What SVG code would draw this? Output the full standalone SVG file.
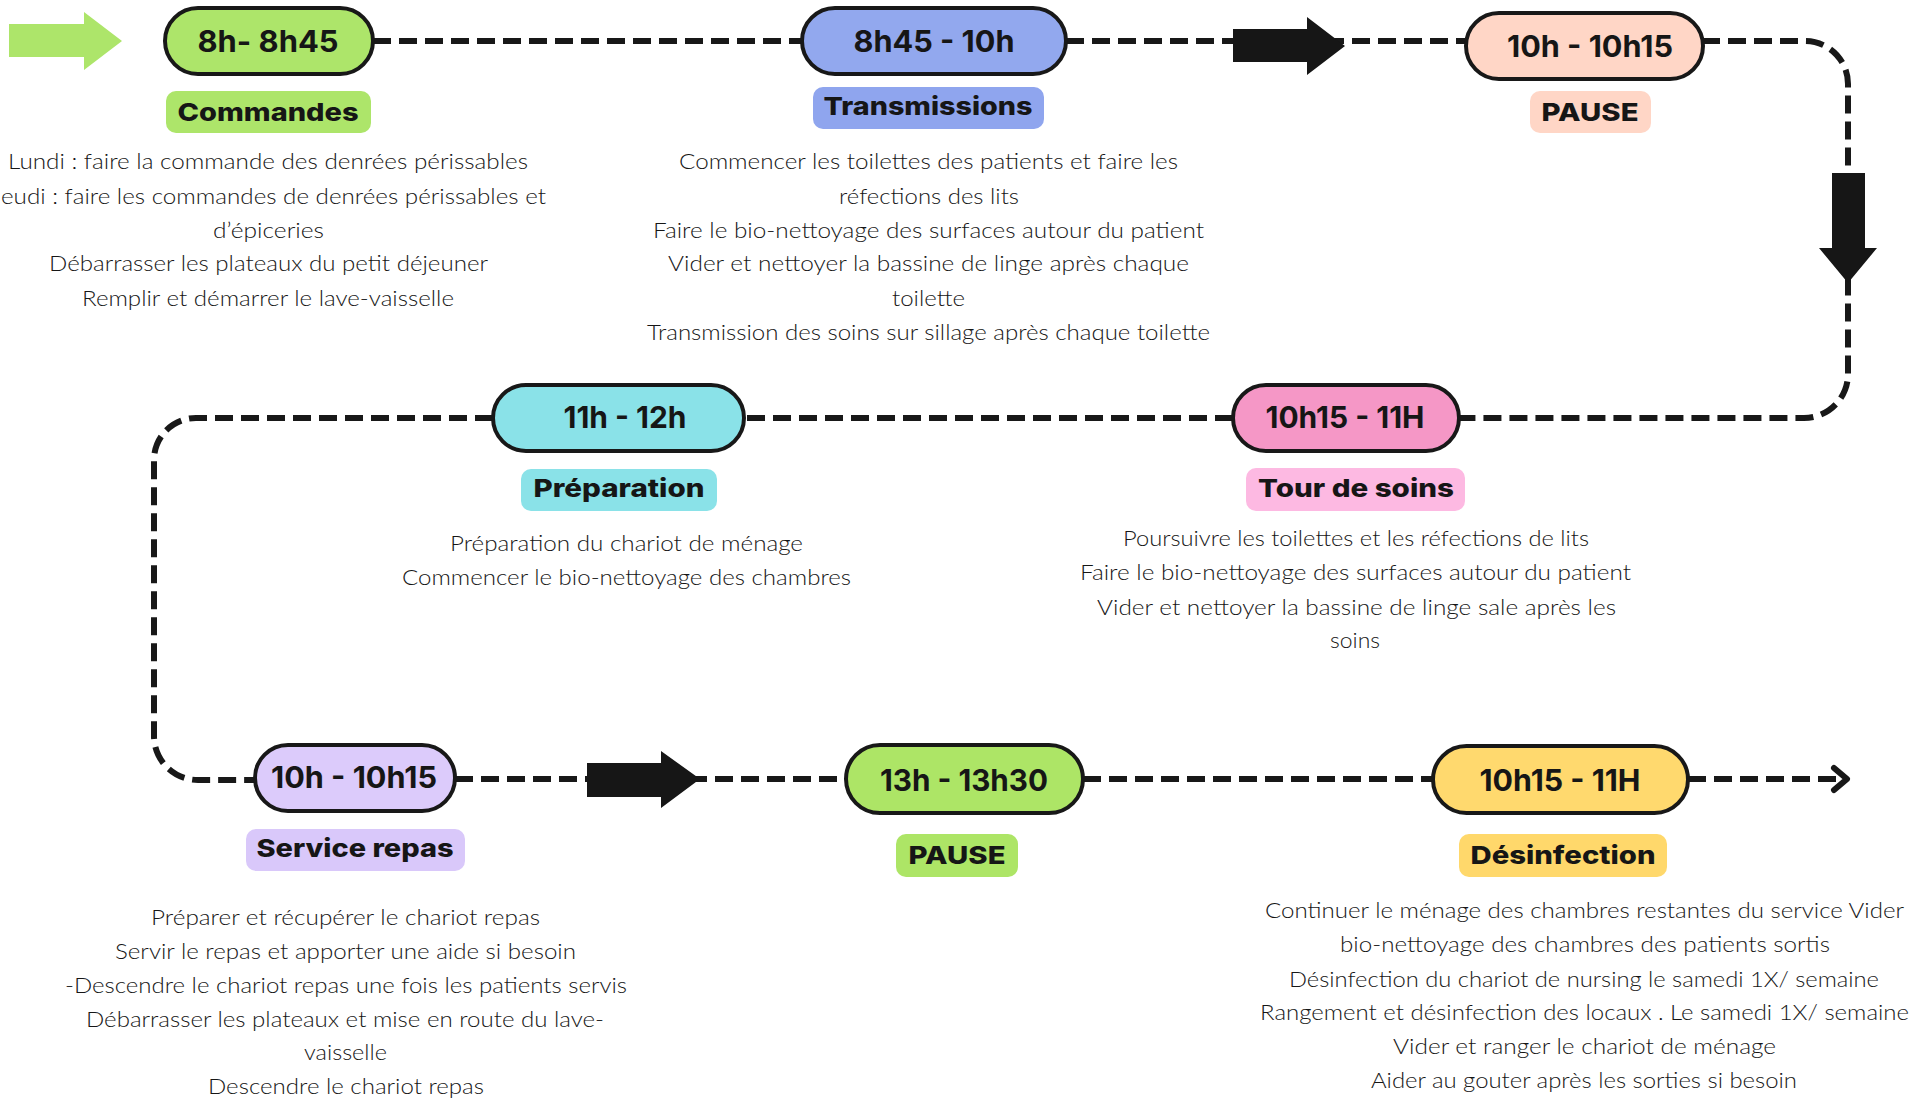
<svg xmlns="http://www.w3.org/2000/svg" width="1930" height="1098" viewBox="0 0 1930 1098">
<style>
.pill{stroke:#181818;stroke-width:4}
.ptxt{font-family:Inter,"Liberation Sans",sans-serif;font-weight:700;font-size:30px;text-anchor:middle;fill:#161616}
.ltxt{font-family:Inter,"Liberation Sans",sans-serif;font-weight:800;font-size:25px;text-anchor:middle;fill:#161616}
.dtxt{font-family:Lato,"Liberation Sans",sans-serif;font-weight:300;font-size:22px;fill:#161616}
.dash{fill:none;stroke:#181818;stroke-width:6;stroke-dasharray:18 8}
.blk{fill:#161616}
</style>
<rect width="1930" height="1098" fill="#ffffff"/>

<g id="connectors">
  <path class="dash" d="M373 41 H802"/>
  <path class="dash" d="M1066 41 H1466"/>
  <path class="dash" d="M1702 41 H1805 A43 43 0 0 1 1848 84 V374 A44 44 0 0 1 1804 418 H1459"/>
  <path class="dash" d="M1233 418 H744"/>
  <path class="dash" d="M493 418 H196 A42 42 0 0 0 154 460 V736 A44 44 0 0 0 198 780 H255"/>
  <path class="dash" d="M455 779 H846"/>
  <path class="dash" d="M1083 779 H1433"/>
  <path class="dash" d="M1688 779 H1842"/>
  <path d="M1834 768 L1847 779 L1834 790" fill="none" stroke="#181818" stroke-width="6" stroke-linecap="round" stroke-linejoin="round"/>
  <polygon points="9,24 84,24 84,12 122,41 84,70 84,57 9,57" fill="#ade56a"/>
  <polygon class="blk" points="1233,29 1307,29 1307,17 1345,46 1307,75 1307,62 1233,62"/>
  <polygon class="blk" points="1832,173 1865,173 1865,248 1877,248 1848,283 1819,248 1832,248"/>
  <polygon class="blk" points="587,763 661,763 661,751 700,779 661,808 661,797 587,797"/>
</g>

<g id="node-commandes">
  <rect class="pill" x="165" y="8" width="208" height="66" rx="33" fill="#ade56a"/>
  <text class="ptxt" x="268" y="52" textLength="141" lengthAdjust="spacingAndGlyphs">8h- 8h45</text>
  <rect x="166" y="91" width="205" height="42" rx="10" fill="#ade56a"/>
  <text class="ltxt" x="268" y="121" textLength="181" lengthAdjust="spacingAndGlyphs">Commandes</text>
  <text class="dtxt" x="8" y="169" textLength="520" lengthAdjust="spacingAndGlyphs">Lundi : faire la commande des denrées périssables</text>
  <text class="dtxt" x="1" y="204" textLength="545" lengthAdjust="spacingAndGlyphs">eudi : faire les commandes de denrées périssables et</text>
  <text class="dtxt" x="213" y="238" textLength="111" lengthAdjust="spacingAndGlyphs">d’épiceries</text>
  <text class="dtxt" x="49" y="271" textLength="439" lengthAdjust="spacingAndGlyphs">Débarrasser les plateaux du petit déjeuner</text>
  <text class="dtxt" x="82" y="306" textLength="372" lengthAdjust="spacingAndGlyphs">Remplir et démarrer le lave-vaisselle</text>
</g>

<g id="node-transmissions">
  <rect class="pill" x="802" y="8" width="264" height="66" rx="33" fill="#92a8ee"/>
  <text class="ptxt" x="934" y="52" textLength="161" lengthAdjust="spacingAndGlyphs">8h45 - 10h</text>
  <rect x="813" y="87" width="231" height="42" rx="10" fill="#8fa5ee"/>
  <text class="ltxt" x="928" y="115" textLength="209" lengthAdjust="spacingAndGlyphs">Transmissions</text>
  <text class="dtxt" x="679" y="169" textLength="499" lengthAdjust="spacingAndGlyphs">Commencer les toilettes des patients et faire les</text>
  <text class="dtxt" x="839" y="204" textLength="180" lengthAdjust="spacingAndGlyphs">réfections des lits</text>
  <text class="dtxt" x="653" y="238" textLength="551" lengthAdjust="spacingAndGlyphs">Faire le bio-nettoyage des surfaces autour du patient</text>
  <text class="dtxt" x="668" y="271" textLength="521" lengthAdjust="spacingAndGlyphs">Vider et nettoyer la bassine de linge après chaque</text>
  <text class="dtxt" x="892" y="306" textLength="73" lengthAdjust="spacingAndGlyphs">toilette</text>
  <text class="dtxt" x="647" y="340" textLength="563" lengthAdjust="spacingAndGlyphs">Transmission des soins sur sillage après chaque toilette</text>
</g>

<g id="node-pause1">
  <rect class="pill" x="1466" y="13" width="237" height="66" rx="33" fill="#ffd6c6"/>
  <text class="ptxt" x="1590" y="57" textLength="166" lengthAdjust="spacingAndGlyphs">10h - 10h15</text>
  <rect x="1530" y="91" width="121" height="42" rx="10" fill="#ffd6c6"/>
  <text class="ltxt" x="1590" y="121" textLength="97" lengthAdjust="spacingAndGlyphs">PAUSE</text>
</g>

<g id="node-tour-de-soins">
  <rect class="pill" x="1233" y="385" width="226" height="66" rx="33" fill="#f597c6"/>
  <text class="ptxt" x="1345" y="428" textLength="159" lengthAdjust="spacingAndGlyphs">10h15 - 11H</text>
  <rect x="1246" y="468" width="219" height="43" rx="10" fill="#fdb9e2"/>
  <text class="ltxt" x="1356" y="497" textLength="196" lengthAdjust="spacingAndGlyphs">Tour de soins</text>
  <text class="dtxt" x="1123" y="546" textLength="466" lengthAdjust="spacingAndGlyphs">Poursuivre les toilettes et les réfections de lits</text>
  <text class="dtxt" x="1080" y="580" textLength="551" lengthAdjust="spacingAndGlyphs">Faire le bio-nettoyage des surfaces autour du patient</text>
  <text class="dtxt" x="1097" y="615" textLength="519" lengthAdjust="spacingAndGlyphs">Vider et nettoyer la bassine de linge sale après les</text>
  <text class="dtxt" x="1330" y="648" textLength="50" lengthAdjust="spacingAndGlyphs">soins</text>
</g>

<g id="node-preparation">
  <rect class="pill" x="493" y="385" width="251" height="66" rx="33" fill="#8ae2e8"/>
  <text class="ptxt" x="625" y="428" textLength="123" lengthAdjust="spacingAndGlyphs">11h - 12h</text>
  <rect x="521" y="469" width="196" height="42" rx="10" fill="#8ae2e8"/>
  <text class="ltxt" x="619" y="497" textLength="171" lengthAdjust="spacingAndGlyphs">Préparation</text>
  <text class="dtxt" x="450" y="551" textLength="353" lengthAdjust="spacingAndGlyphs">Préparation du chariot de ménage</text>
  <text class="dtxt" x="402" y="585" textLength="449" lengthAdjust="spacingAndGlyphs">Commencer le bio-nettoyage des chambres</text>
</g>

<g id="node-service-repas">
  <rect class="pill" x="255" y="745" width="200" height="66" rx="33" fill="#dccbfb"/>
  <text class="ptxt" x="354" y="788" textLength="166" lengthAdjust="spacingAndGlyphs">10h - 10h15</text>
  <rect x="246" y="829" width="219" height="42" rx="10" fill="#d9c8fa"/>
  <text class="ltxt" x="355" y="857" textLength="197" lengthAdjust="spacingAndGlyphs">Service repas</text>
  <text class="dtxt" x="151" y="925" textLength="389" lengthAdjust="spacingAndGlyphs">Préparer et récupérer le chariot repas</text>
  <text class="dtxt" x="115" y="959" textLength="461" lengthAdjust="spacingAndGlyphs">Servir le repas et apporter une aide si besoin</text>
  <text class="dtxt" x="65" y="993" textLength="562" lengthAdjust="spacingAndGlyphs">-Descendre le chariot repas une fois les patients servis</text>
  <text class="dtxt" x="86" y="1027" textLength="518" lengthAdjust="spacingAndGlyphs">Débarrasser les plateaux et mise en route du lave-</text>
  <text class="dtxt" x="304" y="1060" textLength="83" lengthAdjust="spacingAndGlyphs">vaisselle</text>
  <text class="dtxt" x="208" y="1094" textLength="276" lengthAdjust="spacingAndGlyphs">Descendre le chariot repas</text>
</g>

<g id="node-pause2">
  <rect class="pill" x="846" y="745" width="237" height="68" rx="34" fill="#ade566"/>
  <text class="ptxt" x="964" y="791" textLength="168" lengthAdjust="spacingAndGlyphs">13h - 13h30</text>
  <rect x="896" y="834" width="122" height="43" rx="10" fill="#ade566"/>
  <text class="ltxt" x="957" y="864" textLength="97" lengthAdjust="spacingAndGlyphs">PAUSE</text>
</g>

<g id="node-desinfection">
  <rect class="pill" x="1433" y="746" width="255" height="67" rx="33.5" fill="#ffd96e"/>
  <text class="ptxt" x="1560" y="791" textLength="161" lengthAdjust="spacingAndGlyphs">10h15 - 11H</text>
  <rect x="1459" y="834" width="208" height="43" rx="10" fill="#ffd86b"/>
  <text class="ltxt" x="1563" y="864" textLength="185" lengthAdjust="spacingAndGlyphs">Désinfection</text>
  <text class="dtxt" x="1265" y="918" textLength="639" lengthAdjust="spacingAndGlyphs">Continuer le ménage des chambres restantes du service Vider</text>
  <text class="dtxt" x="1340" y="952" textLength="490" lengthAdjust="spacingAndGlyphs">bio-nettoyage des chambres des patients sortis</text>
  <text class="dtxt" x="1289" y="987" textLength="590" lengthAdjust="spacingAndGlyphs">Désinfection du chariot de nursing le samedi 1X/ semaine</text>
  <text class="dtxt" x="1260" y="1020" textLength="649" lengthAdjust="spacingAndGlyphs">Rangement et désinfection des locaux . Le samedi 1X/ semaine</text>
  <text class="dtxt" x="1393" y="1054" textLength="383" lengthAdjust="spacingAndGlyphs">Vider et ranger le chariot de ménage</text>
  <text class="dtxt" x="1371" y="1088" textLength="426" lengthAdjust="spacingAndGlyphs">Aider au gouter après les sorties si besoin</text>
</g>
</svg>
